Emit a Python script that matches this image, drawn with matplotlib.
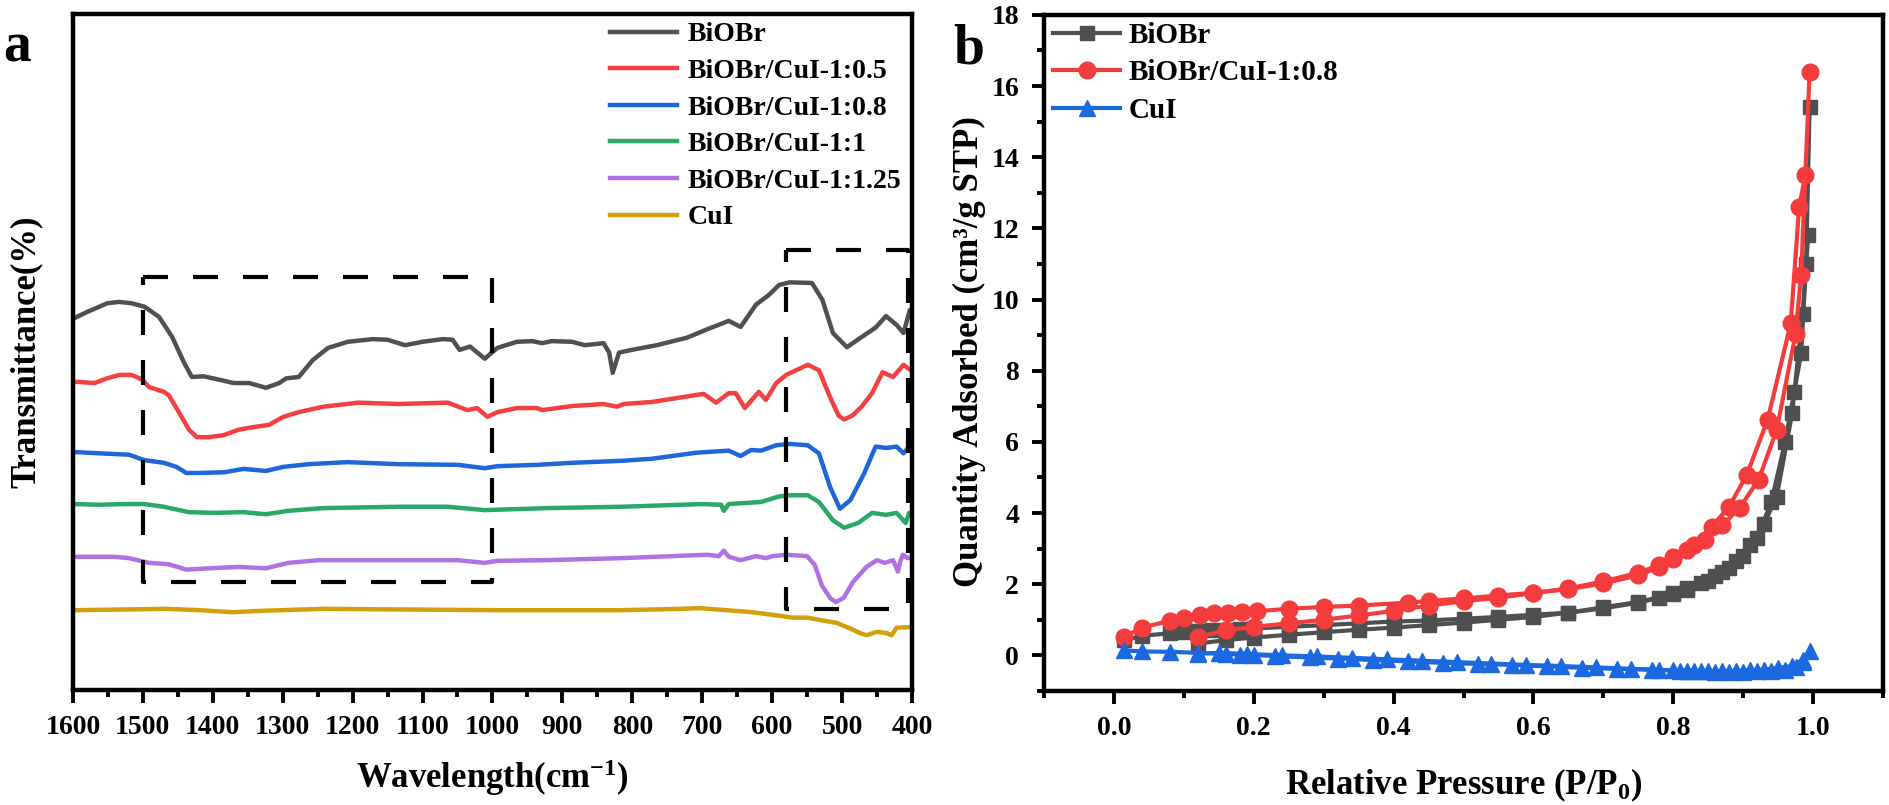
import numpy as np
import matplotlib
matplotlib.use("Agg")
import matplotlib.pyplot as plt
from matplotlib.ticker import MultipleLocator

plt.rcParams['font.family'] = ['Liberation Serif', 'DejaVu Serif']
plt.rcParams['font.weight'] = 'bold'
plt.rcParams['mathtext.fontset'] = 'custom'
plt.rcParams['mathtext.rm'] = 'Liberation Serif:bold'
plt.rcParams['mathtext.bf'] = 'Liberation Serif:bold'
plt.rcParams['mathtext.default'] = 'bf'

# ---------------- panel a : FTIR spectra (arbitrary offset units) ----------------
ftir_labels = ["BiOBr", "BiOBr/CuI-1:0.5", "BiOBr/CuI-1:0.8", "BiOBr/CuI-1:1",
               "BiOBr/CuI-1:1.25", "CuI"]
ftir_colors = ["#505050", "#f44040", "#1f66dc", "#2aa866", "#b072e2", "#d4a00a"]

biobr_w = [1598, 1580, 1551, 1534, 1516, 1498, 1477, 1458, 1441, 1430, 1413, 1391, 1370,
           1348, 1324, 1305, 1295, 1277, 1257, 1235, 1207, 1171, 1150, 1125, 1100, 1071,
           1057, 1047, 1032, 1011, 993, 965, 943, 929, 915, 886, 868, 841, 833, 828, 819,
           801, 765, 722, 694, 662, 645, 623, 605, 590, 575, 543, 528, 513, 493, 472, 452,
           437, 422, 412, 403, 400]
biobr_v = [55.0, 55.9, 57.2, 57.4, 57.2, 56.7, 55.2, 52.2, 48.4, 46.3, 46.4, 45.9, 45.4,
           45.4, 44.7, 45.4, 46.1, 46.3, 48.8, 50.6, 51.5, 51.9, 51.8, 51.0, 51.5, 51.9,
           51.8, 50.3, 50.8, 49.0, 50.6, 51.5, 51.6, 51.3, 51.6, 51.5, 51.0, 51.3, 49.9,
           46.9, 49.9, 50.3, 51.0, 52.1, 53.3, 54.6, 53.7, 57.0, 58.4, 59.9, 60.3, 60.2,
           57.7, 52.8, 50.7, 52.2, 53.6, 55.3, 54.0, 52.8, 56.2, 56.0]

r05_w = [1598, 1569, 1551, 1534, 1516, 1501, 1491, 1470, 1463, 1448, 1434, 1423, 1405,
         1384, 1363, 1341, 1320, 1299, 1277, 1242, 1192, 1135, 1064, 1036, 1022, 1007,
         993, 965, 936, 929, 886, 841, 822, 812, 772, 729, 698, 680, 662, 652, 639, 619,
         609, 594, 580, 549, 533, 517, 505, 497, 485, 472, 457, 442, 427, 412, 402, 400]
r05_v = [45.6, 45.4, 46.1, 46.6, 46.6, 45.9, 44.8, 44.1, 43.6, 41.0, 38.5, 37.4, 37.4,
         37.7, 38.5, 38.9, 39.2, 40.4, 41.1, 41.9, 42.5, 42.3, 42.5, 41.4, 41.7, 40.4,
         41.1, 41.7, 41.7, 41.4, 42.0, 42.3, 41.9, 42.3, 42.6, 43.3, 43.8, 42.5, 43.9,
         43.9, 41.7, 44.1, 42.9, 45.4, 46.6, 48.1, 47.3, 43.3, 40.6, 40.0, 40.6, 41.9,
         43.9, 47.0, 46.3, 48.1, 47.3, 47.5]

r08_w = [1598, 1562, 1541, 1520, 1498, 1470, 1452, 1438, 1420, 1384, 1356, 1324, 1299,
         1263, 1207, 1135, 1049, 1011, 993, 936, 886, 815, 772, 708, 662, 645, 630, 616,
         594, 575, 549, 533, 517, 503, 488, 468, 452, 437, 422, 412, 404, 400]
r08_v = [35.2, 35.0, 34.9, 34.8, 34.0, 33.6, 33.0, 32.1, 32.1, 32.2, 32.7, 32.4, 33.0,
         33.4, 33.7, 33.4, 33.3, 32.8, 33.1, 33.3, 33.6, 33.9, 34.2, 35.1, 35.4, 34.6,
         35.5, 35.4, 36.2, 36.4, 36.2, 35.0, 30.0, 26.8, 28.1, 32.1, 36.0, 35.8, 36.0,
         35.0, 36.0, 35.6]

r1_w = [1598, 1562, 1527, 1498, 1470, 1434, 1398, 1356, 1324, 1292, 1242, 1135, 1064,
        1011, 922, 815, 701, 673, 669, 662, 616, 591, 575, 549, 533, 513, 497, 477, 457,
        437, 422, 409, 404, 400]
r1_v = [27.5, 27.4, 27.5, 27.5, 27.1, 26.3, 26.2, 26.3, 26.0, 26.5, 26.9, 27.1, 27.1,
        26.6, 26.9, 27.1, 27.5, 27.4, 26.5, 27.5, 27.8, 28.6, 28.8, 28.8, 27.8, 25.1,
        24.0, 24.7, 26.2, 25.9, 26.2, 24.7, 26.2, 26.0]

r125_w = [1598, 1562, 1541, 1520, 1491, 1463, 1438, 1405, 1363, 1324, 1292, 1249, 1171,
          1049, 1011, 993, 922, 815, 694, 676, 669, 662, 645, 623, 609, 599, 579, 550,
          539, 529, 517, 509, 498, 484, 465, 450, 439, 427, 422, 420, 417, 413, 406, 400]
r125_v = [19.7, 19.7, 19.7, 19.5, 18.8, 18.6, 17.8, 18.0, 18.2, 18.0, 18.8, 19.2, 19.2,
          19.2, 18.8, 19.1, 19.2, 19.5, 20.0, 19.8, 20.6, 19.7, 19.2, 19.8, 19.5, 19.8,
          20.0, 19.8, 18.5, 15.5, 13.6, 13.0, 13.6, 16.0, 18.2, 19.2, 18.8, 19.2, 18.0,
          17.5, 18.9, 20.0, 19.5, 19.6]

cui_w = [1598, 1466, 1418, 1371, 1333, 1242, 993, 818, 729, 703, 628, 570, 550, 507, 484,
         474, 465, 450, 436, 429, 422, 403, 400]
cui_v = [11.8, 12.0, 11.8, 11.5, 11.7, 12.0, 11.8, 11.8, 12.0, 12.1, 11.5, 10.7, 10.7,
         9.9, 8.9, 8.4, 8.1, 8.6, 8.4, 8.1, 9.2, 9.3, 9.3]

ftir_w = [biobr_w, r05_w, r08_w, r1_w, r125_w, cui_w]
ftir_v = [biobr_v, r05_v, r08_v, r1_v, r125_v, cui_v]

# dashed guide boxes (wavenumber, level)
box1_w = [1500, 1000, 1000, 1500, 1500]
box1_v = [61.1, 61.1, 16.0, 16.0, 61.1]
box2_w = [580, 405, 405, 580, 580]
box2_v = [65.1, 65.1, 12.0, 12.0, 65.1]

# ---------------- panel b : N2 isotherms ----------------
bet_labels = ["BiOBr", "BiOBr/CuI-1:0.8", "CuI"]
bet_colors = ["#4f4f4f", "#f43c3c", "#1c68e0"]
bet_markers = ["s", "o", "^"]

biobr_ads_p = [0.015, 0.04, 0.08, 0.10, 0.12, 0.14, 0.16, 0.18, 0.20, 0.25, 0.30, 0.35,
               0.40, 0.45, 0.50, 0.55, 0.60, 0.65, 0.70, 0.75, 0.78, 0.80, 0.82, 0.84,
               0.86, 0.88, 0.90, 0.92, 0.94, 0.96, 0.973, 0.983, 0.99, 0.995]
biobr_ads_q = [0.42, 0.55, 0.62, 0.66, 0.68, 0.70, 0.72, 0.74, 0.76, 0.80, 0.85, 0.90,
               0.95, 0.98, 1.03, 1.08, 1.14, 1.20, 1.32, 1.48, 1.62, 1.75, 1.88, 2.02,
               2.22, 2.45, 2.78, 3.30, 4.30, 6.00, 7.40, 8.50, 11.0, 15.4]
biobr_des_p = [0.993, 0.985, 0.97, 0.948, 0.93, 0.91, 0.89, 0.87, 0.85, 0.82, 0.80, 0.75,
               0.70, 0.65, 0.60, 0.55, 0.50, 0.45, 0.40, 0.35, 0.30, 0.25, 0.20, 0.16,
               0.12]
biobr_des_q = [11.8, 9.6, 6.8, 4.46, 3.70, 3.10, 2.65, 2.35, 2.10, 1.85, 1.72, 1.50,
               1.35, 1.20, 1.08, 1.00, 0.92, 0.85, 0.78, 0.72, 0.65, 0.58, 0.50, 0.43,
               0.33]

r08_ads_p = [0.015, 0.04, 0.08, 0.10, 0.123, 0.143, 0.163, 0.183, 0.204, 0.25, 0.30, 0.35,
             0.42, 0.45, 0.50, 0.55, 0.60, 0.65, 0.70, 0.75, 0.78, 0.80, 0.82, 0.845,
             0.87, 0.895, 0.922, 0.948, 0.975, 0.983, 0.995]
r08_ads_q = [0.52, 0.78, 0.97, 1.06, 1.13, 1.19, 1.20, 1.22, 1.24, 1.31, 1.36, 1.40,
             1.48, 1.53, 1.60, 1.68, 1.76, 1.86, 2.02, 2.25, 2.48, 2.70, 2.95, 3.25,
             3.65, 4.15, 4.93, 6.34, 9.04, 10.7, 16.4]
r08_des_p = [0.989, 0.98, 0.968, 0.935, 0.905, 0.88, 0.855, 0.83, 0.80, 0.78, 0.75, 0.70,
             0.65, 0.60, 0.55, 0.50, 0.45, 0.40, 0.35, 0.30, 0.25, 0.20, 0.16, 0.12]
r08_des_q = [13.5, 12.6, 9.33, 6.62, 5.07, 4.18, 3.62, 3.10, 2.77, 2.54, 2.32, 2.08,
             1.88, 1.75, 1.62, 1.52, 1.40, 1.25, 1.12, 1.00, 0.90, 0.80, 0.70, 0.52]

cui_ads_p = [0.015, 0.04, 0.08, 0.12, 0.16, 0.18, 0.20, 0.23, 0.28, 0.32, 0.37, 0.42,
             0.47, 0.52, 0.57, 0.62, 0.67, 0.72, 0.77, 0.80, 0.82, 0.84, 0.86, 0.88,
             0.90, 0.92, 0.94, 0.96, 0.975, 0.985, 0.995]
cui_ads_q = [0.14, 0.11, 0.10, 0.07, 0.04, 0.02, 0.01, -0.02, -0.06, -0.09, -0.13, -0.17,
             -0.21, -0.24, -0.27, -0.31, -0.35, -0.38, -0.40, -0.42, -0.44, -0.45, -0.46,
             -0.46, -0.46, -0.45, -0.43, -0.40, -0.33, -0.20, 0.12]
cui_des_p = [0.985, 0.97, 0.95, 0.93, 0.91, 0.89, 0.87, 0.85, 0.83, 0.81, 0.78, 0.74,
             0.69, 0.64, 0.59, 0.54, 0.49, 0.44, 0.39, 0.34, 0.29, 0.24, 0.19, 0.15,
             0.12]
cui_des_q = [-0.12, -0.30, -0.36, -0.40, -0.42, -0.44, -0.45, -0.45, -0.44, -0.43, -0.41,
             -0.38, -0.34, -0.30, -0.27, -0.23, -0.19, -0.15, -0.11, -0.07, -0.03, 0.00,
             0.04, 0.07, 0.05]

bet_ads = [(biobr_ads_p, biobr_ads_q), (r08_ads_p, r08_ads_q), (cui_ads_p, cui_ads_q)]
bet_des = [(biobr_des_p, biobr_des_q), (r08_des_p, r08_des_q), (cui_des_p, cui_des_q)]
bet_msize = [10, 12, 12]

fig = plt.figure(figsize=(18.9, 8.05), dpi=100)
ax1 = fig.add_axes([0.0386, 0.1429, 0.4439, 0.8398])
ax2 = fig.add_axes([0.5524, 0.1417, 0.4439, 0.8398])

for ax in (ax1, ax2):
    for sp in ax.spines.values():
        sp.set_linewidth(3.2)
    ax.tick_params(which='major', direction='out', length=9, width=2.8, labelsize=20, pad=9)
    ax.tick_params(which='minor', direction='out', length=5, width=2.8)

# panel a
for w, v, c, lab in zip(ftir_w, ftir_v, ftir_colors, ftir_labels):
    ax1.plot(w, v, color=c, lw=3.2, label=lab)
ax1.plot(box1_w, box1_v, color='black', lw=3, ls=(0, (6, 6)))
ax1.plot(box2_w, box2_v, color='black', lw=3, ls=(0, (6, 6)))
ax1.set_xlim(1600, 400)
ax1.set_ylim(0, 100)
ax1.xaxis.set_major_locator(MultipleLocator(100))
ax1.xaxis.set_minor_locator(MultipleLocator(50))
ax1.set_yticks([])
ax1.set_xlabel("Wavelength(cm$^{-1}$)", fontsize=25, fontweight='bold')
ax1.xaxis.set_label_coords(0.5, -0.10)
ax1.legend(loc='upper left', bbox_to_anchor=(0.640, 0.988), frameon=False, fontsize=20,
           handlelength=2.4, handletextpad=0.4, labelspacing=0.4, borderaxespad=0,
           borderpad=0)
for t in ax1.get_xticklabels():
    t.set_fontweight('bold')

# panel b
for (p, q), (dp, dq), c, m, ms, lab in zip(bet_ads, bet_des, bet_colors, bet_markers,
                                           bet_msize, bet_labels):
    ax2.plot(p, q, color=c, lw=3, marker=m, ms=ms, label=lab)
    ax2.plot(dp, dq, color=c, lw=3, marker=m, ms=ms)
ax2.set_xlim(-0.1, 1.1)
ax2.set_ylim(-1, 18)
ax2.xaxis.set_major_locator(MultipleLocator(0.2))
ax2.xaxis.set_minor_locator(MultipleLocator(0.1))
ax2.yaxis.set_major_locator(MultipleLocator(2))
ax2.yaxis.set_minor_locator(MultipleLocator(1))
ax2.xaxis.set_major_formatter(plt.FuncFormatter(lambda x, pos: "%.1f" % x if x > -0.05 else ""))
ax2.set_xlabel("Relative Pressure (P/P$_0$)", fontsize=25, fontweight='bold')
ax2.xaxis.set_label_coords(0.5, -0.112)
ax2.legend(loc='upper left', bbox_to_anchor=(0.0107, 0.9896), frameon=False, fontsize=21,
           handlelength=2.3, handletextpad=0.3, labelspacing=0.36, borderaxespad=0,
           borderpad=0)
for t in ax2.get_xticklabels() + ax2.get_yticklabels():
    t.set_fontweight('bold')

# y labels and panel letters placed in figure pixels
fig.text(26 / 1890, 1 - 352 / 805, "Transmittance(%)", fontsize=25, fontweight='bold',
         rotation=90, ha='center', va='center')
fig.text(969 / 1890, 1 - 352 / 805, "Quantity Adsorbed (cm\u00b3/g STP)", fontsize=25,
         fontweight='bold', rotation=90, ha='center', va='center')
fig.text(0.0015, 1 - 62 / 805, "a", fontsize=40, fontweight='bold', va='baseline')
fig.text(953 / 1890, 1 - 63 / 805, "b", fontsize=40, fontweight='bold', va='baseline')

fig.savefig("out.png", dpi=100)
